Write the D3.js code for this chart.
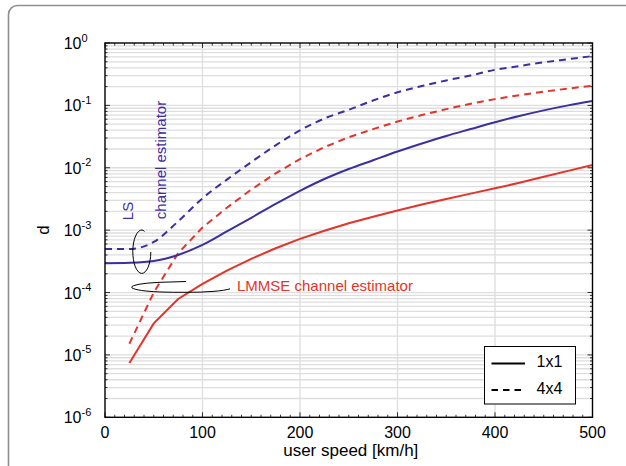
<!DOCTYPE html>
<html>
<head>
<meta charset="utf-8">
<script src="https://cdn.jsdelivr.net/npm/d3@7"></script>
<style>
  html, body { margin: 0; padding: 0; background: #fff; }
  svg { display: block; font-family: "Liberation Sans", Arial, Helvetica, sans-serif; }
</style>
</head>
<body>
<div id="chart"></div>
<script>
// Data (speed in km/h, d on log scale)
const speedsLS = [0, 25, 50, 75, 100, 125, 150, 175, 200, 225, 250, 275, 300, 325, 350, 375, 400, 425, 450, 475, 500];
const speedsLMMSE = [25, 50, 75, 100, 125, 150, 175, 200, 225, 250, 275, 300, 325, 350, 375, 400, 425, 450, 475, 500];

const ls1x1 = [2.95e-4, 3.0e-4, 3.2e-4, 4.0e-4, 5.8e-4, 9.55e-4, 1.58e-3, 2.63e-3, 4.27e-3, 6.6e-3, 9.55e-3, 0.0132, 0.0182, 0.0245, 0.0324, 0.0417, 0.0537, 0.0676, 0.0832, 0.1, 0.1175];
const ls4x4 = [5.0e-4, 5.0e-4, 6.46e-4, 1.38e-3, 3.24e-3, 6.46e-3, 0.0123, 0.0229, 0.0398, 0.0617, 0.0851, 0.120, 0.162, 0.204, 0.251, 0.302, 0.372, 0.427, 0.490, 0.550, 0.617];
const lmmse1x1 = [7.4e-6, 3.2e-5, 7.9e-5, 1.38e-4, 2.24e-4, 3.47e-4, 5.13e-4, 7.24e-4, 9.77e-4, 1.29e-3, 1.64e-3, 2.07e-3, 2.57e-3, 3.16e-3, 3.85e-3, 4.68e-3, 5.75e-3, 7.16e-3, 8.91e-3, 0.0111];
const lmmse4x4 = [1.51e-5, 1.0e-4, 4.27e-4, 1.10e-3, 2.29e-3, 4.47e-3, 8.13e-3, 0.0138, 0.0214, 0.0309, 0.0417, 0.0550, 0.070, 0.0871, 0.106, 0.126, 0.146, 0.166, 0.186, 0.207];

const xTicks = [0, 100, 200, 300, 400, 500];
const yExponents = [0, -1, -2, -3, -4, -5, -6];
const legendLabels = ['1x1', '4x4'];

const blue = '#3c2f9f';
const red = '#e5332a';

const width = 626, height = 466;
const margin = { top: 43, right: 33.5, bottom: 48.7, left: 105 };

const svg = d3.select('#chart').append('svg')
  .attr('width', width)
  .attr('height', height);

// outer rounded frame (only top and left visible in the crop)
svg.append('rect')
  .attr('x', 8.5).attr('y', 5.5)
  .attr('width', 700).attr('height', 600)
  .attr('rx', 9)
  .attr('fill', 'none')
  .attr('stroke', '#8f8f8f')
  .attr('stroke-width', 1.6);

const x = d3.scaleLinear().domain([0, 500]).range([margin.left, width - margin.right]);
const y = d3.scaleLog().domain([1e-6, 1]).range([height - margin.bottom, margin.top]);

const x0 = x.range()[0], x1 = x.range()[1];
const y0 = y.range()[0], y1 = y.range()[1];

// grid
const minorVals = [];
for (let e = -6; e < 0; e++) {
  for (let m = 1; m <= 9; m++) minorVals.push(m * Math.pow(10, e));
}
svg.append('g').selectAll('line')
  .data(minorVals.filter(v => v > 1e-6))
  .join('line')
  .attr('x1', x0).attr('x2', x1)
  .attr('y1', d => y(d)).attr('y2', d => y(d))
  .attr('stroke', '#dedede')
  .attr('stroke-width', 1.3);
svg.append('g').selectAll('line')
  .data(xTicks.slice(1, -1))
  .join('line')
  .attr('x1', d => x(d)).attr('x2', d => x(d))
  .attr('y1', y0).attr('y2', y1)
  .attr('stroke', '#dedede')
  .attr('stroke-width', 1.3);

// ticks (inward, on all four sides)
const ticks = svg.append('g').attr('stroke', '#000').attr('stroke-width', 0.8);
d3.range(0, 501, 10).forEach(v => {
  const len = v % 100 === 0 ? 5 : 2.5;
  ticks.append('line').attr('x1', x(v)).attr('x2', x(v)).attr('y1', y0).attr('y2', y0 - len);
  ticks.append('line').attr('x1', x(v)).attr('x2', x(v)).attr('y1', y1).attr('y2', y1 + len);
});
minorVals.concat([1]).forEach(v => {
  const major = Math.abs(Math.log10(v) - Math.round(Math.log10(v))) < 1e-9;
  const len = major ? 5 : 2.5;
  ticks.append('line').attr('x1', x0).attr('x2', x0 + len).attr('y1', y(v)).attr('y2', y(v));
  ticks.append('line').attr('x1', x1).attr('x2', x1 - len).attr('y1', y(v)).attr('y2', y(v));
});

// lines: LS curves are smooth, LMMSE curves show their kinks at low speed
const series = [
  { xs: speedsLS, ys: ls4x4, color: blue, dash: '7,5', curve: d3.curveMonotoneX },
  { xs: speedsLMMSE, ys: lmmse4x4, color: red, dash: '7,5', curve: d3.curveLinear },
  { xs: speedsLS, ys: ls1x1, color: blue, dash: null, curve: d3.curveMonotoneX },
  { xs: speedsLMMSE, ys: lmmse1x1, color: red, dash: null, curve: d3.curveLinear }
];
series.forEach(s => {
  const line = d3.line()
    .x(d => x(d[0]))
    .y(d => y(d[1]))
    .curve(s.curve);
  svg.append('path')
    .datum(s.xs.map((v, i) => [v, s.ys[i]]))
    .attr('d', line)
    .attr('fill', 'none')
    .attr('stroke', s.color)
    .attr('stroke-width', 2)
    .attr('stroke-dasharray', s.dash);
});

// axes box
svg.append('rect')
  .attr('x', x0).attr('y', y1)
  .attr('width', x1 - x0).attr('height', y0 - y1)
  .attr('fill', 'none')
  .attr('stroke', '#000')
  .attr('stroke-width', 1.4);

// x tick labels
svg.append('g').selectAll('text')
  .data(xTicks)
  .join('text')
  .attr('x', d => x(d))
  .attr('y', y0 + 21)
  .attr('text-anchor', 'middle')
  .attr('font-size', 16)
  .text(d => d);

// y tick labels 10^k
yExponents.forEach(e => {
  const ty = y(Math.pow(10, e));
  svg.append('text')
    .attr('x', 81.5).attr('y', ty + 6)
    .attr('text-anchor', 'end')
    .attr('font-size', 16)
    .text('10');
  svg.append('text')
    .attr('x', 81.5).attr('y', ty - 1.5)
    .attr('font-size', 11)
    .text(e === 0 ? '0' : '-' + Math.abs(e));
});

// axis titles
svg.append('text')
  .attr('x', (x0 + x1) / 2 + 2)
  .attr('y', 456)
  .attr('text-anchor', 'middle')
  .attr('font-size', 17)
  .text('user speed [km/h]');
svg.append('text')
  .attr('transform', 'translate(49,230) rotate(-90)')
  .attr('text-anchor', 'middle')
  .attr('font-size', 17)
  .text('d');

// annotations
svg.append('text')
  .attr('transform', 'translate(133,211) rotate(-90)')
  .attr('text-anchor', 'middle')
  .attr('font-size', 15)
  .attr('fill', blue)
  .text('LS');
svg.append('text')
  .attr('transform', 'translate(166,160) rotate(-90)')
  .attr('text-anchor', 'middle')
  .attr('font-size', 15)
  .attr('fill', blue)
  .text('channel estimator');
svg.append('text')
  .attr('x', 237)
  .attr('y', 291)
  .attr('font-size', 15)
  .attr('fill', red)
  .text('LMMSE channel estimator');

// hand-drawn style ellipses
svg.append('path')
  .attr('d', 'M144.5,231.5 Q143,229.8 142,230 A9 21.7 0 1 0 150.8,252')
  .attr('fill', 'none').attr('stroke', '#000').attr('stroke-width', 1);
svg.append('path')
  .attr('d', 'M186,281.5 L170,282 A44 5.2 0 0 0 146,291 Q160,292.5 186,292.3 A44 5.2 0 0 0 230,288.8')
  .attr('fill', 'none').attr('stroke', '#000').attr('stroke-width', 1);

// legend
const lg = svg.append('g');
lg.append('rect')
  .attr('x', 484.5).attr('y', 346.5)
  .attr('width', 91).attr('height', 57.5)
  .attr('fill', '#fff')
  .attr('stroke', '#000')
  .attr('stroke-width', 1);
legendLabels.forEach((lab, i) => {
  const ly = 363.5 + i * 26.5;
  lg.append('line')
    .attr('x1', 491.5).attr('x2', 525)
    .attr('y1', ly).attr('y2', ly)
    .attr('stroke', '#000')
    .attr('stroke-width', 2)
    .attr('stroke-dasharray', i === 0 ? null : '6.5,5');
  lg.append('text')
    .attr('x', 536.5).attr('y', ly + 3.5)
    .attr('font-size', 16)
    .text(lab);
});
</script>
</body>
</html>
